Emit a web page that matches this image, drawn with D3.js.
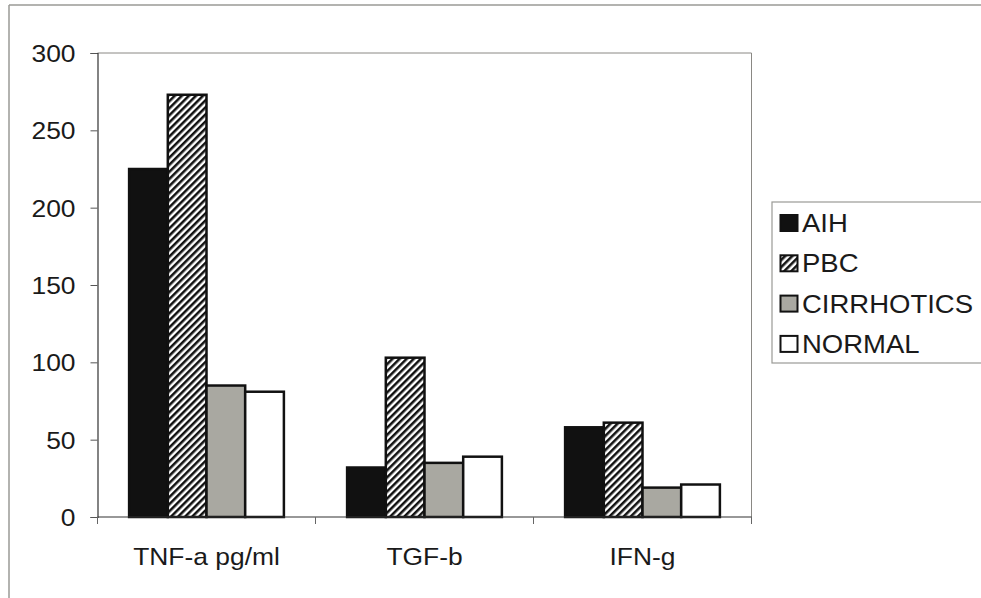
<!DOCTYPE html>
<html><head><meta charset="utf-8">
<script src="https://cdn.jsdelivr.net/npm/d3@7"></script>
<style>
html,body{margin:0;padding:0;background:#fff;}
svg{display:block;}
text{font-family:"Liberation Sans",Arial,sans-serif;fill:#1a1a1a;}
</style></head>
<body>
<svg id="chart" width="981" height="598"></svg>
<script>
const categories = ["TNF-a pg/ml", "TGF-b", "IFN-g"];
const seriesNames = ["AIH", "PBC", "CIRRHOTICS", "NORMAL"];
const AIH = [225, 32, 58];
const PBC = [273, 103, 61];
const CIRRHOTICS = [85, 35, 19];
const NORMAL = [81, 39, 21];
const yTicks = [0, 50, 100, 150, 200, 250, 300];

const seriesValues = [AIH, PBC, CIRRHOTICS, NORMAL];
const fills = ["#111111", "url(#hatch)", "#a9a8a1", "#ffffff"];

const svg = d3.select("#chart");
const defs = svg.append("defs");
const pat = defs.append("pattern").attr("id", "hatch")
  .attr("patternUnits", "userSpaceOnUse").attr("width", 5).attr("height", 5)
  .attr("patternTransform", "rotate(45)");
pat.append("rect").attr("width", 5).attr("height", 5).attr("fill", "#fff");
pat.append("line").attr("x1", 1.25).attr("y1", 0).attr("x2", 1.25).attr("y2", 5)
  .attr("stroke", "#111").attr("stroke-width", 2.6);

const SX = 1.1, FS = 24;

// outer frame
svg.append("line").attr("x1", 9).attr("y1", 5).attr("x2", 981).attr("y2", 5).attr("stroke", "#9a9a96").attr("stroke-width", 1.5);
svg.append("line").attr("x1", 9).attr("y1", 5).attr("x2", 9).attr("y2", 598).attr("stroke", "#9a9a96").attr("stroke-width", 1.5);

const pLeft = 97.5, pRight = 751.5, pTop = 53, pBottom = 517;
const x0 = d3.scaleBand().domain(categories).range([pLeft, pRight]).padding(0);
const groupW = x0.bandwidth() * 0.71;
const x1 = d3.scaleBand().domain(seriesNames)
  .range([(x0.bandwidth() - groupW) / 2, (x0.bandwidth() + groupW) / 2]).padding(0);
const y = d3.scaleLinear().domain([0, 300]).range([pBottom, pTop]);

// plot area frame (top & right)
svg.append("path").attr("d", `M${pLeft},${pTop}H${pRight}V${pBottom}`)
  .attr("fill", "none").attr("stroke", "#8a8884").attr("stroke-width", 1);

// bars
const g = svg.append("g");
categories.forEach((c, ci) => {
  seriesNames.forEach((s, si) => {
    const v = seriesValues[si][ci];
    g.append("rect")
      .attr("x", x0(c) + x1(s))
      .attr("y", y(v))
      .attr("width", x1.bandwidth())
      .attr("height", y(0) - y(v))
      .attr("fill", fills[si])
      .attr("stroke", "#111").attr("stroke-width", 2.5);
  });
});

// y axis
const yAxis = svg.append("g").attr("transform", `translate(${pLeft},0)`)
  .call(d3.axisLeft(y).tickValues(yTicks).tickSize(7).tickPadding(0).tickFormat(d3.format("d")));
yAxis.select(".domain").attr("stroke", "#333").attr("stroke-width", 1.2);
yAxis.selectAll(".tick line").attr("stroke", "#555");
yAxis.selectAll(".tick text").remove();
yAxis.selectAll(".tick").append("text")
  .attr("transform", `translate(-22,0) scale(${SX},1)`)
  .attr("text-anchor", "end").attr("dy", "0.36em")
  .style("font-size", FS + "px").attr("fill", "#1a1a1a")
  .text(d => d);

// x axis
const xAxis = svg.append("g").attr("transform", `translate(0,${pBottom})`);
xAxis.append("line").attr("x1", pLeft).attr("x2", pRight).attr("y1", 0).attr("y2", 0)
  .attr("stroke", "#333").attr("stroke-width", 1.2);
const boundaries = categories.map(c => x0(c)).concat([pRight]);
xAxis.selectAll("line.tk").data(boundaries).enter().append("line").attr("class", "tk")
  .attr("x1", d => d).attr("x2", d => d).attr("y1", 0).attr("y2", 7)
  .attr("stroke", "#666").attr("stroke-width", 1);
xAxis.selectAll("text.cat").data(categories).enter().append("text").attr("class", "cat")
  .attr("transform", d => `translate(${x0(d) + x0.bandwidth() / 2},48) scale(${SX},1)`)
  .attr("text-anchor", "middle").style("font-size", FS + "px").text(d => d);

// legend
const lg = svg.append("g");
lg.append("rect").attr("x", 772).attr("y", 202).attr("width", 230).attr("height", 161)
  .attr("fill", "#fff").attr("stroke", "#9a9a96").attr("stroke-width", 1.2);
seriesNames.forEach((s, i) => {
  const cy = 223 + i * 40.3;
  lg.append("rect").attr("x", 780.5).attr("y", cy - 8).attr("width", 17).attr("height", 16)
    .attr("fill", fills[i])
    .attr("stroke", "#111").attr("stroke-width", 2);
  lg.append("text").attr("transform", `translate(802,${cy}) scale(${SX},1)`)
    .attr("dy", "0.36em").style("font-size", "25px").text(s);
});
</script>
</body></html>
